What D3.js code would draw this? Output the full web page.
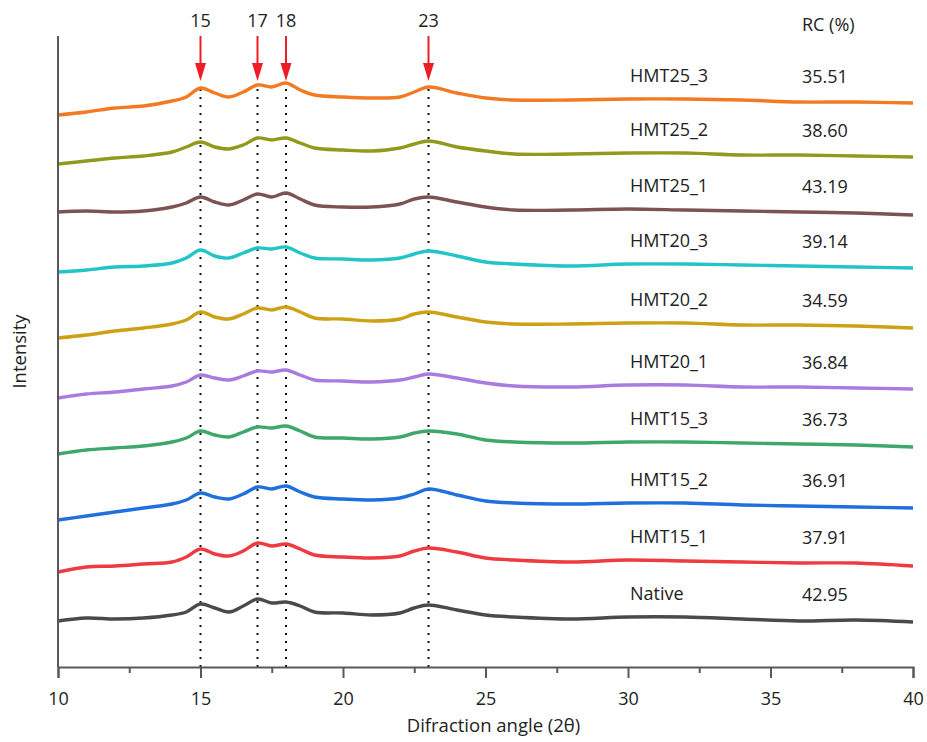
<!DOCTYPE html>
<html>
<head>
<meta charset="utf-8">
<script src="https://cdn.jsdelivr.net/npm/d3@7"></script>
<style>
  body { margin: 0; background: #fff; }
  text { font-family: "Open Sans", sans-serif; fill: #222; }
</style>
</head>
<body>
<div id="chart"></div>
<script>
var angles = [10, 11, 12, 13, 14, 14.5, 15, 15.5, 16, 16.5, 17, 17.5, 18, 18.5, 19, 20, 21, 22, 22.5, 23, 24, 25, 26, 28, 30, 32, 34, 36, 38, 40];

var sampleNames = ["HMT25_3", "HMT25_2", "HMT25_1", "HMT20_3", "HMT20_2", "HMT20_1", "HMT15_3", "HMT15_2", "HMT15_1", "Native"];
var rcValues = ["35.51", "38.60", "43.19", "39.14", "34.59", "36.84", "36.73", "36.91", "37.91", "42.95"];
var colors = ["#f27a22", "#929a1c", "#7d5252", "#22c4c8", "#cca114", "#a97ae0", "#3ea76b", "#1f6fdc", "#ef3b40", "#4a4a4a"];

// stacked (offset) intensities, arbitrary units
var hmt25_3 = [552, 555, 559, 561, 566, 570, 579, 574, 570, 575, 582, 580, 584, 577, 572, 570, 569, 570, 575, 580, 574, 569, 567, 567, 568, 568, 567, 565, 565, 564];
var hmt25_2 = [503, 506, 509, 511, 515, 520, 525, 520, 518, 522, 529, 527, 529, 524, 519, 517, 516, 519, 523, 526, 520, 516, 513, 513, 514, 514, 512, 512, 511, 510];
var hmt25_1 = [455, 456, 455, 456, 460, 464, 470, 465, 462, 467, 473, 470, 474, 468, 462, 460, 460, 463, 468, 470, 465, 460, 457, 457, 458, 457, 456, 455, 454, 452];
var hmt20_3 = [395, 397, 400, 401, 404, 409, 417, 411, 409, 414, 419, 418, 420, 414, 409, 408, 407, 409, 413, 416, 411, 405, 403, 401, 403, 403, 402, 401, 400, 399];
var hmt20_2 = [329, 332, 336, 339, 343, 347, 355, 350, 348, 353, 359, 357, 360, 355, 349, 348, 346, 348, 353, 355, 350, 345, 343, 343, 344, 344, 342, 342, 341, 339];
var hmt20_1 = [269, 273, 275, 278, 281, 285, 292, 289, 287, 291, 296, 295, 297, 292, 287, 286, 285, 287, 290, 293, 289, 284, 281, 280, 282, 282, 280, 280, 279, 278];
var hmt15_3 = [213, 217, 219, 221, 225, 229, 236, 232, 230, 235, 240, 239, 241, 236, 230, 229, 228, 230, 234, 236, 233, 227, 225, 224, 225, 225, 224, 223, 222, 220];
var hmt15_2 = [147, 151, 155, 159, 163, 167, 174, 170, 168, 173, 180, 178, 181, 175, 170, 168, 167, 169, 173, 178, 172, 166, 164, 163, 164, 164, 162, 161, 160, 159];
var hmt15_1 = [95, 100, 101, 103, 105, 110, 118, 113, 111, 116, 124, 121, 123, 118, 112, 110, 109, 111, 116, 119, 115, 109, 107, 105, 107, 106, 105, 104, 104, 101];
var native = [46, 49, 48, 49, 52, 55, 63, 59, 55, 61, 68, 64, 65, 61, 55, 54, 52, 54, 59, 62, 57, 52, 50, 48, 50, 50, 48, 46, 47, 45];

var seriesValues = [hmt25_3, hmt25_2, hmt25_1, hmt20_3, hmt20_2, hmt20_1, hmt15_3, hmt15_2, hmt15_1, native];

var peakAngles = [15, 17, 18, 23];
var xTicks = [10, 15, 20, 25, 30, 35, 40];
var xMinorTicks = [12.5, 17.5, 22.5, 27.5, 32.5, 37.5];

var width = 927, height = 742;
var svg = d3.select("#chart").append("svg")
  .attr("width", width)
  .attr("height", height);

var x = d3.scaleLinear().domain([10, 40]).range([58, 913]);
var y = d3.scaleLinear().domain([0, 631]).range([667, 36]);

// dotted guides at the peaks
svg.append("g")
  .selectAll("line")
  .data(peakAngles)
  .enter()
  .append("line")
  .attr("x1", (d) => x(d))
  .attr("x2", (d) => x(d))
  .attr("y1", y(578))
  .attr("y2", y(0))
  .attr("stroke", "#111")
  .attr("stroke-width", 2)
  .attr("stroke-dasharray", "2,6");

// patterns
var line = d3.line()
  .x((d, i) => x(angles[i]))
  .y((d) => y(d))
  .curve(d3.curveCatmullRom.alpha(0.5));

svg.append("g")
  .selectAll("path")
  .data(seriesValues)
  .enter()
  .append("path")
  .attr("d", (d) => line(d))
  .attr("fill", "none")
  .attr("stroke", (d, i) => colors[i])
  .attr("stroke-width", 3.4)
  .attr("stroke-linejoin", "round");

// axes
svg.append("line")
  .attr("x1", x(10)).attr("x2", x(10))
  .attr("y1", y(631)).attr("y2", y(0))
  .attr("stroke", "#595959").attr("stroke-width", 2);

var xAxis = d3.axisBottom(x)
  .tickValues(xTicks)
  .tickSize(11)
  .tickPadding(14)
  .tickFormat((d) => d);

var gx = svg.append("g")
  .attr("transform", "translate(0," + y(0) + ")")
  .call(xAxis);
gx.select(".domain").attr("stroke", "#595959").attr("stroke-width", 2);
gx.selectAll(".tick line").attr("stroke", "#595959").attr("stroke-width", 2);
gx.selectAll(".tick text")
  .attr("font-family", "Open Sans")
  .attr("font-size", 18)
  .attr("fill", "#222");

svg.append("g")
  .attr("transform", "translate(0," + y(0) + ")")
  .call(d3.axisBottom(x).tickValues(xMinorTicks).tickSize(6).tickFormat(""))
  .call((g) => g.select(".domain").remove())
  .selectAll(".tick line").attr("stroke", "#595959").attr("stroke-width", 2);

svg.append("text")
  .attr("x", (x(10) + x(40)) / 2 + 8)
  .attr("y", 732)
  .attr("text-anchor", "middle")
  .attr("font-size", 18.5)
  .text("Difraction angle (2θ)");

svg.append("text")
  .attr("transform", "translate(26," + (y(0) + y(631)) / 2 + ") rotate(-90)")
  .attr("text-anchor", "middle")
  .attr("font-size", 18.5)
  .text("Intensity");

// peak arrows
var arrows = svg.append("g");
peakAngles.forEach(function (p) {
  arrows.append("line")
    .attr("x1", x(p)).attr("x2", x(p))
    .attr("y1", y(631)).attr("y2", y(600))
    .attr("stroke", "#ee1c25").attr("stroke-width", 2);
  arrows.append("path")
    .attr("d", "M" + (x(p) - 5.5) + "," + y(604) + "L" + (x(p) + 5.5) + "," + y(604) + "L" + x(p) + "," + y(586) + "Z")
    .attr("fill", "#ee1c25");
  arrows.append("text")
    .attr("x", x(p))
    .attr("y", 27)
    .attr("text-anchor", "middle")
    .attr("font-size", 18)
    .text(p);
});

// sample labels and RC values
var labels = svg.append("g");
labels.selectAll(".name")
  .data(sampleNames)
  .enter()
  .append("text")
  .attr("class", "name")
  .attr("x", 630)
  .attr("y", (d, i) => y(seriesValues[i][angles.indexOf(30)]) - 17)
  .attr("font-size", 18)
  .text((d) => d);

labels.selectAll(".rc")
  .data(rcValues)
  .enter()
  .append("text")
  .attr("class", "rc")
  .attr("x", 802)
  .attr("y", (d, i) => y(seriesValues[i][angles.indexOf(30)]) - 16)
  .attr("font-size", 18)
  .text((d) => d);

svg.append("text")
  .attr("x", 802)
  .attr("y", 31)
  .attr("font-size", 18)
  .text("RC (%)");
</script>
</body>
</html>
